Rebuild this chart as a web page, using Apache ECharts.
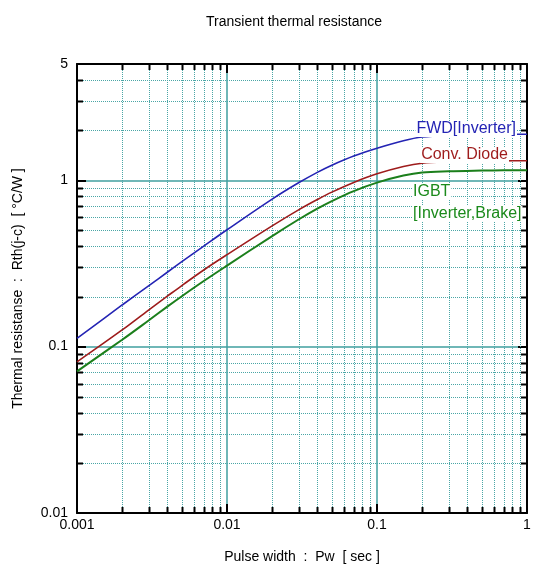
<!DOCTYPE html>
<html><head><meta charset="utf-8">
<script src="https://cdn.jsdelivr.net/npm/echarts@6/dist/echarts.min.js"></script>
<style>html,body{margin:0;padding:0;background:#fff}#c{width:534px;height:569px}</style>
</head><body><div id="c"></div>
<script>
// ---- data ----
const pulseWidth = [0.001, 0.002, 0.003, 0.004, 0.005, 0.007, 0.01, 0.02, 0.03, 0.04, 0.05, 0.07, 0.1, 0.15, 0.2, 0.3, 0.5, 0.7, 1];
const fwdInverter = [0.112, 0.178, 0.232, 0.280, 0.324, 0.402, 0.504, 0.771, 0.966, 1.116, 1.233, 1.40, 1.56, 1.73, 1.82, 1.865, 1.885, 1.89, 1.89];
const convDiode = [0.081, 0.126, 0.166, 0.201, 0.233, 0.289, 0.357, 0.532, 0.664, 0.766, 0.849, 0.971, 1.093, 1.209, 1.266, 1.29, 1.303, 1.308, 1.31];
const igbt = [0.071, 0.110, 0.1436, 0.174, 0.201, 0.248, 0.307, 0.462, 0.581, 0.675, 0.750, 0.861, 0.968, 1.067, 1.114, 1.132, 1.143, 1.148, 1.15];
const xTickLabels = ['0.001', '0.01', '0.1', '1'];
const yTickLabels = ['0.01', '0.1', '1', '5'];
const xMinorTicks = [0.002,0.003,0.004,0.005,0.006,0.007,0.008,0.009,0.02,0.03,0.04,0.05,0.06,0.07,0.08,0.09,0.2,0.3,0.4,0.5,0.6,0.7,0.8,0.9];
const yMinorTicks = [0.02,0.03,0.04,0.05,0.06,0.07,0.08,0.09,0.2,0.3,0.4,0.5,0.6,0.7,0.8,0.9,2,3,4];
const seriesNames = ['FWD[Inverter]', 'Conv. Diode', 'IGBT\n[Inverter,Brake]'];

const FONT = '"Liberation Sans", Arial, sans-serif';
const TEAL = '#3f9f9f';
const TEAL_DOT = '#4aa6a6';

function fmt(v) { return String(+(+v).toPrecision(6)); }
function labelFmt(list) {
  return function (v) { const s = fmt(v); return list.indexOf(s) >= 0 ? s : ''; };
}

function toPairs(xs, ys) { return xs.map((x, i) => [x, ys[i]]); }

const chart = echarts.init(document.getElementById('c'), null, { renderer: 'canvas' });

function axisBase(extra) {
  return Object.assign({
    type: 'log', logBase: 10,
    axisLine: { show: true, onZero: false, lineStyle: { color: '#000', width: 2 } },
    axisTick: { show: true, inside: true, length: 9, lineStyle: { color: '#000', width: 2 } },
    minorTick: { show: false },
    minorSplitLine: { show: false }
  }, extra);
}

const option = {
  animation: false,
  backgroundColor: '#fff',
  title: {
    text: 'Transient thermal resistance',
    left: 201, top: 10,
    textStyle: { fontSize: 14, fontWeight: 'normal', color: '#000', fontFamily: FONT }
  },
  grid: { left: 77, right: 7, top: 64, bottom: 54, containLabel: false },
  xAxis: [
    axisBase({
      min: 0.001, max: 1, position: 'bottom',
      axisLabel: { color: '#000', fontSize: 14, fontFamily: FONT, margin: 5, formatter: labelFmt(xTickLabels), showMinLabel: true, showMaxLabel: true },
      splitLine: { show: true, lineStyle: { color: TEAL, width: 1.5 } },
      name: 'Pulse width  :  Pw  [ sec ]', nameLocation: 'middle', nameGap: 37,
      nameTextStyle: { fontSize: 14, color: '#000', fontFamily: FONT }
    }),
    axisBase({
      min: 0.001, max: 1, position: 'top',
      axisLabel: { show: false }, splitLine: { show: false }
    })
  ],
  yAxis: [
    axisBase({
      min: 0.01, max: 5, position: 'left',
      axisLabel: { color: '#000', fontSize: 14, fontFamily: FONT, margin: 9, formatter: labelFmt(yTickLabels), showMinLabel: true, showMaxLabel: true },
      splitLine: { show: true, lineStyle: { color: TEAL, width: 1.5 } },
      name: 'Thermal resistanse  :  Rth(j-c)  [ °C/W ]', nameLocation: 'middle', nameGap: 52,
      nameTextStyle: { fontSize: 14, color: '#000', fontFamily: FONT }
    }),
    axisBase({
      min: 0.01, max: 5, position: 'right',
      axisLabel: { show: false }, splitLine: { show: false }
    })
  ],
  series: [
    {
      type: 'custom', name: 'xminor', xAxisIndex: 0, yAxisIndex: 0, silent: true, z: 1,
      data: xMinorTicks.map(v => [v, 1]),
      renderItem: function (params, api) {
        const cs = params.coordSys;
        const px = Math.round(api.coord([api.value(0), 1])[0]) + 0.5;
        const top = cs.y, bot = cs.y + cs.height;
        return { type: 'group', children: [
          { type: 'line', shape: { x1: px, y1: top, x2: px, y2: bot }, style: { stroke: TEAL_DOT, lineWidth: 1, lineDash: [1, 1] } },
          { type: 'line', shape: { x1: px, y1: bot, x2: px, y2: bot - 6 }, style: { stroke: '#000', lineWidth: 2 } },
          { type: 'line', shape: { x1: px, y1: top, x2: px, y2: top + 6 }, style: { stroke: '#000', lineWidth: 2 } }
        ] };
      }
    },
    {
      type: 'custom', name: 'yminor', xAxisIndex: 0, yAxisIndex: 0, silent: true, z: 1,
      data: yMinorTicks.map(v => [0.01, v]),
      renderItem: function (params, api) {
        const cs = params.coordSys;
        const py = Math.round(api.coord([0.01, api.value(1)])[1]) + 0.5;
        const l = cs.x, r = cs.x + cs.width;
        return { type: 'group', children: [
          { type: 'line', shape: { x1: l, y1: py, x2: r, y2: py }, style: { stroke: TEAL_DOT, lineWidth: 1, lineDash: [1, 1] } },
          { type: 'line', shape: { x1: l, y1: py, x2: l + 6, y2: py }, style: { stroke: '#000', lineWidth: 2 } },
          { type: 'line', shape: { x1: r, y1: py, x2: r - 6, y2: py }, style: { stroke: '#000', lineWidth: 2 } }
        ] };
      }
    },
    {
      type: 'line', name: seriesNames[0], data: toPairs(pulseWidth, fwdInverter), smooth: 0.35,
      showSymbol: false, symbol: 'none', z: 3, lineStyle: { color: '#2424b4', width: 1.6 }
    },
    {
      type: 'line', name: seriesNames[1], data: toPairs(pulseWidth, convDiode), smooth: 0.35,
      showSymbol: false, symbol: 'none', z: 3, lineStyle: { color: '#9e1c1c', width: 1.6 }
    },
    {
      type: 'line', name: seriesNames[2], data: toPairs(pulseWidth, igbt), smooth: 0.35,
      showSymbol: false, symbol: 'none', z: 3, lineStyle: { color: '#1b7f1b', width: 2 }
    }
  ],
  graphic: [
    { type: 'text', z: 100, x: 517, y: 129, style: { text: 'FWD[Inverter]', fill: '#2424b4', fontSize: 16, fontFamily: FONT, align: 'right', verticalAlign: 'middle', backgroundColor: '#fff', padding: [0, 1] } },
    { type: 'text', z: 100, x: 509, y: 155, style: { text: 'Conv. Diode', fill: '#9e1c1c', fontSize: 16, fontFamily: FONT, align: 'right', verticalAlign: 'middle', backgroundColor: '#fff', padding: [0, 1] } },
    { type: 'text', z: 100, x: 412, y: 192, style: { text: 'IGBT', fill: '#1b8a1b', fontSize: 16, fontFamily: FONT, align: 'left', verticalAlign: 'middle', backgroundColor: '#fff', padding: [0, 1] } },
    { type: 'text', z: 100, x: 412, y: 214, style: { text: '[Inverter,Brake]', fill: '#1b8a1b', fontSize: 16, fontFamily: FONT, align: 'left', verticalAlign: 'middle', backgroundColor: '#fff', padding: [0, 1] } }
  ]
};
chart.setOption(option);
</script>
</body></html>
